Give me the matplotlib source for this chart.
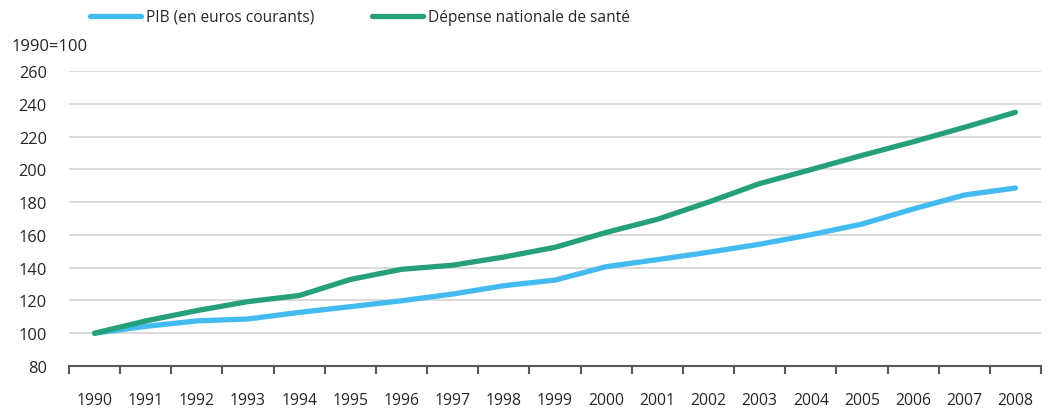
import numpy as np
import matplotlib
matplotlib.use('Agg')
import matplotlib.pyplot as plt
from matplotlib.lines import Line2D

plt.rcParams['font.family'] = ['Open Sans', 'DejaVu Sans']

# Données (base 1990 = 100)
years = list(range(1990, 2009))
pib = [100, 104.2, 107.5, 108.7, 112.7, 116.2, 119.8, 123.9, 129.0, 132.4,
       140.6, 144.9, 149.4, 154.3, 160.1, 166.6, 175.8, 184.3, 188.6]
sante = [100, 107.5, 113.8, 119.3, 123.0, 132.8, 139.0, 141.5, 146.5, 152.4,
         161.5, 169.5, 180.0, 191.3, 199.8, 208.5, 216.8, 225.6, 234.8]
labels = ['PIB (en euros courants)', 'Dépense nationale de santé']
yticks = [80, 100, 120, 140, 160, 180, 200, 220, 240, 260]

col_pib = '#43bbf0'
col_sante = '#25a07b'
txt = '#262626'

fig = plt.figure(figsize=(10.49, 4.10), dpi=100)
ax = fig.add_axes([69/1049, 43/410, 972/1049, 295/410])

x = np.arange(len(years))
ax.plot(x, pib, color=col_pib, lw=3.8, solid_capstyle='round', solid_joinstyle='round', zorder=3)
ax.plot(x, sante, color=col_sante, lw=3.8, solid_capstyle='round', solid_joinstyle='round', zorder=4)

ax.set_xlim(-0.5, len(years) - 0.5)
ax.set_ylim(80, 260)
ax.set_yticks(yticks)
ax.set_yticklabels([str(v) for v in yticks], fontsize=11.8, color=txt)
ax.set_xticks(x)
ax.set_xticklabels([str(y) for y in years], fontsize=11.3, color=txt)
ax.set_xticks(np.arange(len(years) + 1) - 0.5, minor=True)
ax.tick_params(axis='x', which='major', length=0, pad=19)
ax.tick_params(axis='x', which='minor', length=6, width=1.5, color='#595959')
ax.tick_params(axis='y', length=0, pad=16)

ax.grid(axis='y', color='#d4d4d4', lw=1.2)
ax.set_axisbelow(True)
for s in ['top', 'right', 'left']:
    ax.spines[s].set_visible(False)
ax.spines['bottom'].set_color('#595959')
ax.spines['bottom'].set_linewidth(1.5)
ax.spines['bottom'].set_zorder(5)

fig.text(12/1049, 1 - 47/410, '1990=100', fontsize=12, color=txt, va='center', ha='left')

handles = [Line2D([0], [0], color=col_pib, lw=3.8, solid_capstyle='round'),
           Line2D([0], [0], color=col_sante, lw=3.8, solid_capstyle='round')]
fig.legend(handles, labels, loc='center left', bbox_to_anchor=(90/1049, 1 - 18/410),
           ncol=2, frameon=False, fontsize=11.2, handlelength=3.3, handletextpad=0.3,
           columnspacing=3.7, borderpad=0, borderaxespad=0, labelcolor=txt)

fig.savefig('out.png', dpi=100)
